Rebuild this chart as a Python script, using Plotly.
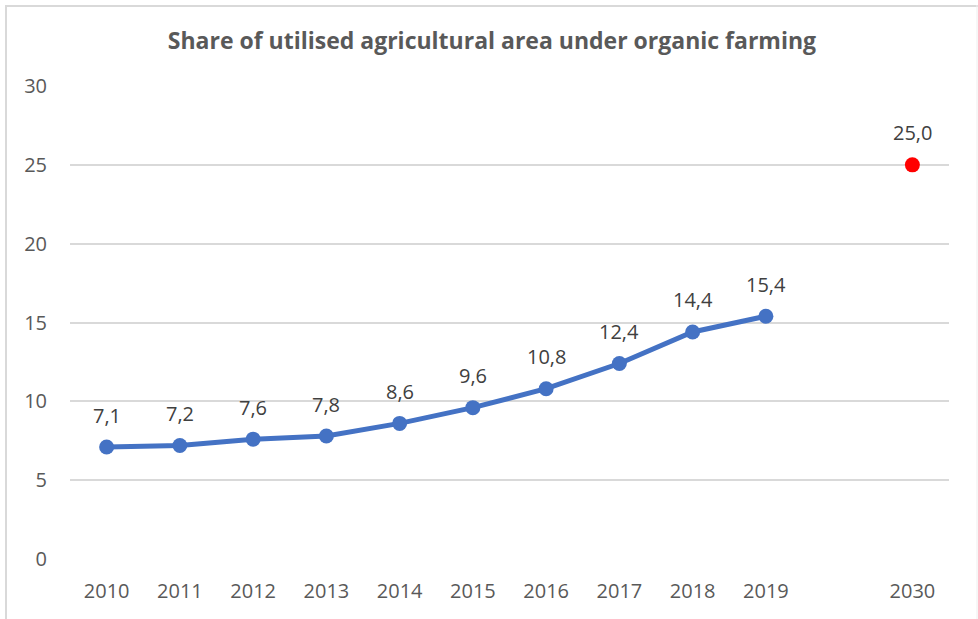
import plotly.graph_objects as go

years = ["2010", "2011", "2012", "2013", "2014", "2015", "2016", "2017", "2018", "2019"]
share = [7.1, 7.2, 7.6, 7.8, 8.6, 9.6, 10.8, 12.4, 14.4, 15.4]
target_year = ["2030"]
target_value = [25.0]
all_ticks = years + ["", "2030"]
y_ticks = [0, 5, 10, 15, 20, 25, 30]

xpos_main = list(range(len(years)))
xpos_target = [all_ticks.index(t) for t in target_year]

fig = go.Figure()
fig.add_trace(go.Scatter(
    x=xpos_main, y=share, mode="lines+markers",
    line=dict(color="#4472C4", width=5),
    marker=dict(color="#4472C4", size=15),
    hoverinfo="skip", cliponaxis=False,
))
fig.add_trace(go.Scatter(
    x=xpos_target, y=target_value, mode="markers",
    marker=dict(color="#FF0000", size=15),
    hoverinfo="skip", cliponaxis=False,
))

label_font = dict(family="Open Sans", size=20, color="#404040")
annotations = []
for xs, ys in ((xpos_main, share), (xpos_target, target_value)):
    for xv, yv in zip(xs, ys):
        annotations.append(dict(
            x=xv, y=yv, xref="x", yref="y",
            text=f"{yv:.1f}".replace(".", ","),
            showarrow=False, yshift=32, font=label_font,
            xanchor="center", yanchor="middle",
        ))

L, R, T, B = 70, 29, 86, 60
W, H = 978, 619
pw, ph = W - L - R, H - T - B

def px(x):
    return (x - L) / pw

def py(y):
    return (H - B - y) / ph

tick_font = dict(family="Open Sans", size=20, color="#595959")

fig.update_layout(
    width=W, height=H,
    margin=dict(l=L, r=R, t=T, b=B),
    paper_bgcolor="white", plot_bgcolor="white",
    showlegend=False,
    separators=", ",
    annotations=annotations,
    title=dict(
        text="<b>Share of utilised agricultural area under organic farming</b>",
        x=0.503, xanchor="center", y=1 - 41 / H, yanchor="middle",
        font=dict(family="Open Sans", size=23, color="#595959"),
    ),
    xaxis=dict(
        range=[-0.5, len(all_ticks) - 0.5],
        tickmode="array",
        tickvals=list(range(len(all_ticks))),
        ticktext=all_ticks,
        showgrid=False, zeroline=False, showline=False,
        ticks="", ticklabelstandoff=18,
        tickfont=tick_font,
        fixedrange=True,
    ),
    yaxis=dict(
        range=[0, 30],
        tickmode="array", tickvals=y_ticks,
        showgrid=True, gridcolor="#D9D9D9", gridwidth=1.5,
        zeroline=False, showline=False,
        ticks="", ticklabelstandoff=22,
        tickfont=tick_font,
        fixedrange=True,
    ),
    shapes=[
        dict(type="line", xref="paper", yref="paper",
             x0=px(6), x1=px(6), y0=py(5), y1=py(630),
             line=dict(color="#D9D9D9", width=2)),
        dict(type="line", xref="paper", yref="paper",
             x0=px(5), x1=px(978), y0=py(6), y1=py(6),
             line=dict(color="#D9D9D9", width=2)),
        dict(type="line", xref="paper", yref="paper",
             x0=px(977), x1=px(977), y0=py(5), y1=py(630),
             line=dict(color="#EEEEEE", width=1)),
    ],
)

fig.write_html("out.html", config={"displayModeBar": False},
               post_script="document.body.style.margin='0';")
